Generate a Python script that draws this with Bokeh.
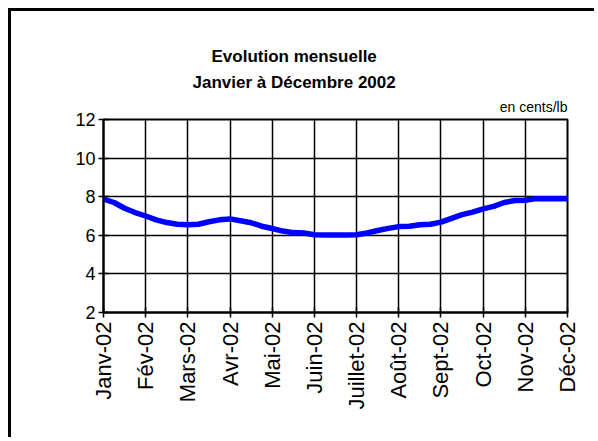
import numpy as np
from bokeh.plotting import figure
from bokeh.models import Title, FixedTicker
from bokeh.embed import file_html
from bokeh.resources import INLINE

# Month tick labels
months = ["Janv-02", "Fév-02", "Mars-02", "Avr-02", "Mai-02", "Juin-02",
          "Juillet-02", "Août-02", "Sept-02", "Oct-02", "Nov-02", "Déc-02"]

# Weekly prices (cents/lb), four readings per month step
prices = [7.88, 7.70, 7.40, 7.18, 7.00, 6.80, 6.66, 6.57, 6.55, 6.57,
          6.70, 6.80, 6.85, 6.75, 6.65, 6.47, 6.35, 6.22, 6.14, 6.12,
          6.03, 6.02, 6.02, 6.02, 6.03, 6.12, 6.25, 6.36, 6.45, 6.47,
          6.55, 6.57, 6.68, 6.88, 7.07, 7.20, 7.37, 7.50, 7.70, 7.80,
          7.82, 7.90, 7.90, 7.90, 7.90]

y_ticks = [2, 4, 6, 8, 10, 12]

title_1 = "Evolution mensuelle"
title_2 = "Janvier à Décembre 2002"
unit_label = "en cents/lb"

x_pos = np.arange(len(prices)) / 4.0  # position in months from Janv-02

FONT = "Liberation Sans"

p = figure(width=586, height=429, output_backend="svg", toolbar_location=None,
           x_range=(0, len(months) - 1), y_range=(y_ticks[0], y_ticks[-1]),
           min_border_left=92, min_border_right=30,
           min_border_top=108, min_border_bottom=128,
           styles={"margin-left": "8px", "margin-top": "8px",
                   "border-left": "3px solid black", "border-top": "3px solid black"})
p.title.visible = False

p.line(x_pos, prices, line_color="#0000FF", line_width=5.5, line_join="round", line_cap="round")

# Titles (first added is nearest the plot area)
p.add_layout(Title(text=unit_label, align="right", offset=0, text_font=FONT,
                   text_font_size="14px", text_font_style="normal", text_color="black",
                   standoff=10), "above")
p.add_layout(Title(text=title_2, align="left", offset=89, text_font=FONT,
                   text_font_size="17px", text_font_style="bold", text_color="black",
                   standoff=0), "above")
p.add_layout(Title(text=title_1, align="left", offset=108, text_font=FONT,
                   text_font_size="17px", text_font_style="bold", text_color="black",
                   standoff=10), "above")

# Axes
p.xaxis.ticker = FixedTicker(ticks=list(range(len(months))))
p.xaxis.major_label_overrides = {i: m for i, m in enumerate(months)}
p.xaxis.major_label_orientation = np.pi / 2
p.yaxis.ticker = FixedTicker(ticks=y_ticks)
for ax in (p.xaxis, p.yaxis):
    ax.axis_line_color = "black"
    ax.axis_line_width = 2
    ax.major_tick_line_color = "black"
    ax.major_tick_line_width = 1.5
    ax.major_tick_in = 5
    ax.major_tick_out = 5
    ax.minor_tick_line_color = None
    ax.major_label_text_font = FONT
    ax.major_label_text_color = "black"
p.yaxis.major_label_text_font_size = "18px"
p.xaxis.major_label_text_font_size = "22px"
p.xaxis.major_label_standoff = 4
p.yaxis.major_label_standoff = 3

p.xgrid.grid_line_color = "black"
p.ygrid.grid_line_color = "black"
p.xgrid.grid_line_width = 1.5
p.ygrid.grid_line_width = 1.5
p.outline_line_color = "black"
p.outline_line_width = 2
p.background_fill_color = "white"
p.border_fill_color = "white"

open("out.html", "w").write(file_html(p, INLINE))
